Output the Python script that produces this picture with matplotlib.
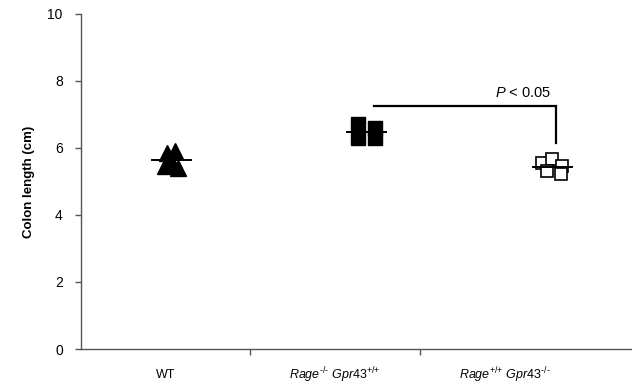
import numpy as np
import matplotlib.pyplot as plt

plt.rcParams['font.family'] = ['Liberation Sans', 'DejaVu Sans']
plt.rcParams['mathtext.fontset'] = 'custom'
plt.rcParams['mathtext.rm'] = 'Liberation Sans'
plt.rcParams['mathtext.it'] = 'Liberation Sans:italic'

# colon length (cm) per mouse
groups = ['WT', r'$Rage^{\text{-/-}}\ \mathit{Gpr43}^{\text{+/+}}$',
          r'$Rage^{\text{+/+}}\ \mathit{Gpr43}^{\text{-/-}}$']
wt = [5.85, 5.9, 5.45, 5.4, 5.55]
rage_ko = [6.72, 6.6, 6.3, 6.3]
gpr43_ko = [5.55, 5.68, 5.47, 5.3, 5.22]
p_text = r'$P$ < 0.05'

# where each group's points sit, and the horizontal spread within a group
centers = [0.535, 1.685, 2.78]
spread = [[-0.03, 0.02, -0.04, 0.04, 0.0],
          [-0.05, 0.05, -0.05, 0.05],
          [-0.06, 0.0, 0.06, -0.03, 0.05]]

fig = plt.figure(figsize=(6.32, 3.88), dpi=100)
ax = fig.add_axes([0.128, 0.1005, 0.872, 0.8635])

styles = [dict(marker='^', ms=12, mfc='black', mec='black'),
          dict(marker='s', ms=9.5, mfc='black', mec='black'),
          dict(marker='s', ms=9, mfc='white', mec='black', mew=1.2)]

for vals, c, dx, st in zip([wt, rage_ko, gpr43_ko], centers, spread, styles):
    xs = c + np.array(dx)
    ax.plot(xs, vals, ls='none', zorder=3, **st)
    m = np.mean(vals)
    ax.plot([c - 0.115, c + 0.115], [m, m], color='black', lw=1.4, zorder=4)

# significance bracket
ax.plot([1.73, 2.8, 2.8], [7.25, 7.25, 6.15], color='black', lw=1.6,
        solid_joinstyle='miter')
ax.text(2.61, 7.64, p_text, ha='center', va='center', fontsize=10.5)

ax.set_xlim(0, 3.25)
ax.set_ylim(0, 10)
ax.set_yticks(np.arange(0, 11, 2))
ax.set_xticks([1, 2])
ax.set_xticklabels([])
ax.tick_params(axis='x', which='major', length=4, width=1, color='#555555', direction='out')
ax.tick_params(axis='y', length=4, width=1, color='#555555', direction='out', labelsize=10, pad=9)

# group names centred under each category slot
for i, g in enumerate(groups):
    ax.text(i + 0.5, -0.078, g, transform=ax.get_xaxis_transform(),
            ha='center', va='center', fontsize=9)

for s in ['top', 'right']:
    ax.spines[s].set_visible(False)
for s in ['left', 'bottom']:
    ax.spines[s].set_color('#555555')
    ax.spines[s].set_linewidth(1)

ax.set_ylabel('Colon length (cm)', fontsize=9.5, fontweight='bold', labelpad=9)

fig.savefig('out.png', dpi=100)
